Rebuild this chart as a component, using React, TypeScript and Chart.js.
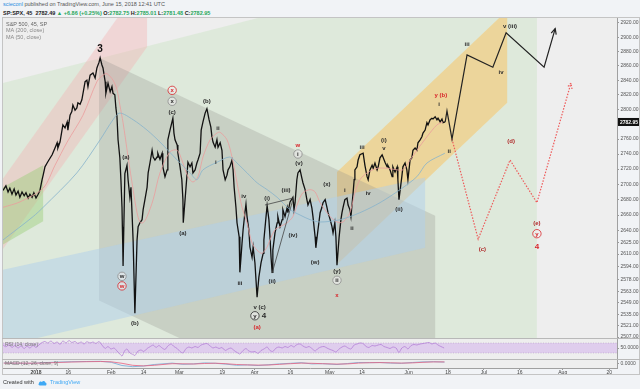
import React, { useEffect, useRef } from "react";
import { Chart, registerables } from "chart.js";
Chart.register(...registerables);

type P = [number, number];
const FONT = '"Liberation Sans", Arial, sans-serif';

// x = trading-day index (0 = Jan 2 2018), y = price (log scale)
const X_MIN = -9.21;
const X_MAX = 162.15;
const Y_MIN = 2505.8;
const Y_MAX = 2928.5;
const LAST_PRICE = 2782.95;

const PRICE_TICKS = [2920, 2900, 2880, 2860, 2840, 2820, 2800, 2780, 2760, 2740, 2720, 2700, 2680, 2660, 2640, 2625, 2610, 2594, 2578, 2563, 2549, 2535, 2521, 2507];
const TIME_TICKS = [0, 9, 21, 30, 40, 52, 61, 71, 82, 91, 104, 115, 125, 135, 147, 160];
const TIME_LABELS = ["2018", "16", "Feb", "14", "Mar", "19", "Apr", "16", "May", "14", "Jun", "18", "Jul", "16", "Aug", "20"];

const PRICE: P[] = [[-9.2,2692],[-8.4,2698],[-7.8,2690],[-7.3,2695],[-6.7,2687],[-6.1,2694],[-5.6,2686],[-5.0,2691],[-4.5,2683],[-3.9,2690],[-3.3,2685],[-2.8,2689],[-2.2,2682],[-1.7,2687],[-1.1,2683],[-0.6,2689],[0,2682],[0.6,2687],[1.1,2692],[1.7,2706],[2.0,2712],[2.5,2723],[3.1,2728],[3.6,2732],[4.5,2739],[5.3,2748],[5.9,2755],[6.1,2748],[6.7,2756],[7.5,2779],[8.1,2775],[8.7,2783],[8.9,2772],[9.5,2792],[10.0,2797],[10.3,2806],[10.9,2799],[11.4,2802],[11.7,2809],[12.3,2807],[12.8,2813],[13.7,2838],[14.2,2840],[14.5,2831],[15.1,2847],[15.9,2850],[16.5,2843],[17.0,2857],[17.6,2865],[17.9,2871],[18.4,2861],[18.7,2857],[19.3,2838],[19.5,2822],[20.1,2836],[20.7,2824],[21.2,2831],[21.5,2822],[22.0,2820],[22.3,2802],[22.6,2790],[22.9,2759],[23.4,2735],[23.7,2706],[24.0,2670],[24.1,2645],[24.2,2624],[24.3,2595],[24.8,2714],[25.4,2725],[25.7,2706],[26.2,2683],[26.5,2696],[26.8,2663],[27.1,2628],[27.6,2536],[28.2,2628],[28.5,2645],[29.0,2650],[29.6,2654],[29.9,2667],[30.4,2680],[31.0,2696],[31.3,2715],[31.8,2728],[32.4,2745],[32.7,2736],[33.2,2732],[33.8,2736],[34.0,2741],[34.6,2733],[35.2,2741],[35.4,2723],[36.0,2710],[36.6,2719],[36.8,2759],[37.4,2772],[38.2,2788],[38.5,2768],[38.8,2759],[39.4,2752],[39.6,2741],[40.2,2723],[40.7,2706],[41.0,2680],[41.1,2650],[41.6,2680],[42.1,2710],[42.4,2729],[43.0,2723],[43.5,2728],[43.8,2715],[44.4,2719],[44.9,2728],[45.2,2732],[45.8,2741],[46.1,2772],[46.6,2783],[47.2,2795],[47.7,2801],[48.3,2786],[48.8,2776],[49.1,2763],[49.4,2756],[50.0,2749],[50.5,2759],[50.8,2749],[51.4,2755],[51.9,2745],[52.2,2719],[52.8,2706],[53.3,2712],[53.6,2719],[54.1,2723],[54.7,2732],[55.0,2719],[55.3,2696],[55.8,2670],[56.1,2650],[56.7,2632],[56.9,2587],[57.5,2624],[57.8,2641],[58.3,2663],[58.6,2674],[58.9,2658],[59.4,2641],[59.7,2619],[60.3,2606],[60.6,2619],[61.1,2599],[61.7,2556],[62.2,2581],[62.8,2599],[63.4,2611],[63.6,2628],[64.2,2658],[64.5,2672],[65.0,2654],[65.3,2632],[65.6,2606],[65.9,2587],[66.1,2615],[66.7,2637],[67.3,2650],[67.5,2658],[68.1,2645],[68.7,2654],[68.9,2667],[69.5,2658],[70.1,2670],[70.3,2663],[70.9,2677],[71.7,2683],[72.0,2667],[72.3,2676],[72.8,2706],[73.1,2715],[73.7,2719],[74.2,2708],[74.5,2702],[75.1,2693],[75.6,2680],[75.9,2673],[76.5,2680],[77.0,2669],[77.3,2658],[77.9,2632],[78.1,2618],[78.7,2641],[79.3,2663],[79.8,2670],[80.1,2676],[80.7,2680],[81.2,2670],[81.5,2663],[82.1,2654],[82.6,2645],[82.9,2637],[83.4,2650],[83.7,2632],[84.0,2596],[84.6,2632],[85.1,2654],[85.4,2663],[85.7,2670],[86.2,2680],[86.8,2682],[87.1,2673],[87.6,2667],[87.9,2658],[88.5,2689],[88.8,2706],[89.0,2719],[89.6,2723],[89.9,2732],[90.4,2739],[91.3,2741],[91.8,2725],[92.4,2710],[92.7,2706],[93.2,2719],[93.8,2725],[94.1,2721],[94.6,2728],[95.2,2719],[95.5,2723],[96.0,2735],[96.6,2739],[97.4,2729],[98.0,2723],[98.2,2725],[98.8,2719],[99.4,2710],[99.6,2723],[100.2,2716],[100.8,2723],[101.0,2706],[101.3,2680],[102.1,2710],[102.4,2723],[103.0,2728],[103.5,2719],[103.8,2706],[104.4,2732],[104.9,2735],[105.2,2745],[105.8,2748],[106.3,2745],[106.6,2755],[107.2,2759],[107.7,2763],[108.0,2768],[108.6,2772],[109.1,2782],[109.4,2779],[110.0,2786],[110.5,2788],[110.8,2787],[111.4,2790],[111.9,2786],[112.2,2788],[112.8,2783],[113.3,2787],[113.6,2782],[114.2,2783]];

const MA50: P[] = [[-9.2,2670],[-4.5,2677],[2.0,2695],[5.3,2725],[8.7,2756],[13.1,2792],[17.0,2838],[18.7,2847],[19.8,2849],[21.5,2840],[22.6,2827],[23.4,2806],[24.3,2782],[25.7,2736],[27.1,2693],[28.2,2663],[29.0,2651],[29.9,2650],[31.0,2658],[32.7,2680],[34.6,2715],[37.4,2743],[39.4,2745],[40.7,2732],[42.4,2710],[43.8,2703],[45.2,2710],[46.6,2736],[48.6,2759],[50.5,2768],[51.4,2769],[53.3,2759],[54.7,2736],[56.1,2702],[57.5,2670],[58.9,2650],[60.3,2624],[61.7,2615],[63.1,2611],[64.5,2619],[65.3,2628],[66.7,2641],[68.1,2645],[70.1,2650],[71.7,2658],[73.1,2676],[74.5,2689],[76.5,2693],[77.9,2690],[79.3,2676],[82.1,2658],[84.0,2651],[85.7,2651],[87.6,2663],[89.0,2689],[90.4,2706],[92.4,2715],[95.2,2721],[98.0,2721],[100.8,2719],[102.4,2719],[104.4,2732],[106.3,2745],[109.1,2763],[111.9,2779],[113.6,2783]];

const MA200: P[] = [[-9.2,2628],[-0.8,2658],[2.0,2670],[11.4,2715],[17.9,2759],[21.5,2786],[23.4,2795],[27.1,2786],[31.0,2772],[34.6,2756],[39.4,2732],[43.0,2715],[44.9,2706],[46.6,2719],[50.5,2729],[54.1,2736],[56.1,2728],[58.9,2715],[61.7,2702],[64.5,2693],[67.3,2683],[70.9,2667],[73.7,2660],[76.5,2654],[79.3,2651],[84.9,2654],[90.4,2663],[96.0,2676],[101.6,2693],[106.3,2710],[109.1,2728],[114.1,2741]];

const PROJ_BLACK: P[] = [[114.2,2783],[114.7,2798],[116.1,2760],[120.3,2875],[127.5,2858],[131.2,2906],[141.8,2858],[144.9,2912]];
const PROJ_RED: P[] = [[116.1,2760],[123.4,2629],[132.3,2732],[139.8,2676],[149.3,2836]];
const WEDGE_UPPER: P[] = [[63.9,2673],[71.7,2682]];
const WEDGE_LOWER: P[] = [[65.9,2586],[71.7,2680]];

const ZONE_GREEN: P[] = [[-9.3,2836],[139.8,3030],[139.8,2316],[-9.3,2316]];
const ZONE_PINK: P[] = [[-9.3,2707],[31.0,2987],[31.0,2886],[-9.3,2616]];
const ZONE_GREEN_BOX: P[] = [[-9.3,2696],[2.0,2725],[2.0,2652],[-9.3,2622]];
const ZONE_ORANGE: P[] = [[84.0,2716],[131.5,2938],[131.5,2809],[84.0,2597]];
const ZONE_GRAY: P[] = [[17.6,2871],[111.4,2659],[111.4,2364],[17.6,2552]];
const ZONE_BLUE: P[] = [[-9.3,2590],[108.6,2709],[108.6,2618],[-9.3,2496]];

const RSI: P[] = [[-9.2,62],[-8.4,55],[-7.5,63],[-6.7,52],[-5.9,60],[-5.0,50],[-4.2,58],[-3.3,48],[-2.5,57],[-1.7,50],[-0.8,60],[0,52],[0.8,62],[1.7,72],[2.5,76],[3.3,70],[4.2,78],[5.0,68],[5.9,74],[6.7,64],[7.5,78],[8.4,70],[9.2,80],[10.0,72],[10.9,76],[11.7,68],[12.6,74],[13.4,66],[14.2,75],[15.1,70],[15.9,74],[16.7,68],[17.6,76],[18.4,62],[19.3,48],[20.1,56],[20.9,46],[21.8,50],[22.6,38],[23.4,26],[24.0,18],[24.8,40],[25.4,46],[26.2,30],[27.1,24],[27.6,20],[28.5,38],[29.3,42],[30.1,36],[31.0,48],[31.8,55],[32.7,62],[33.5,52],[34.3,60],[35.2,50],[36.0,44],[36.8,58],[37.7,66],[38.5,56],[39.4,48],[40.2,36],[41.0,30],[41.9,48],[42.7,54],[43.5,50],[44.4,56],[45.2,52],[46.1,62],[46.9,66],[47.7,68],[48.6,58],[49.4,50],[50.2,54],[51.1,48],[51.9,52],[52.8,40],[53.6,46],[54.4,50],[55.3,40],[56.1,32],[56.9,26],[57.8,40],[58.6,48],[59.4,38],[60.3,34],[61.1,36],[62.0,28],[62.8,40],[63.6,46],[64.5,54],[65.3,40],[66.1,36],[67.0,50],[67.8,54],[68.7,50],[69.5,56],[70.3,52],[71.2,60],[72.0,54],[72.8,64],[73.7,66],[74.5,58],[75.4,52],[76.2,56],[77.0,48],[77.9,38],[78.7,48],[79.5,54],[80.4,56],[81.2,50],[82.1,44],[82.9,40],[83.7,34],[84.6,46],[85.4,54],[86.2,58],[87.1,50],[87.9,46],[88.8,62],[89.6,66],[90.4,70],[91.3,68],[92.1,56],[92.9,52],[93.8,60],[94.6,58],[95.5,62],[96.3,64],[97.1,56],[98.0,52],[98.8,48],[99.6,54],[100.5,50],[101.3,32],[102.1,50],[103.0,56],[103.8,46],[104.7,60],[105.5,64],[106.3,62],[107.2,66],[108.0,68],[108.8,70],[109.7,72],[110.5,66],[111.4,70],[112.2,62],[113.0,56],[113.9,50]];

const MACD_LINE: P[] = [[-9,5],[-5,3],[-1,2],[2,8],[6,14],[10,18],[14,20],[18,22],[21,12],[24,-20],[27,-32],[30,-25],[33,-10],[36,-2],[38,4],[41,-8],[44,-4],[47,6],[50,2],[53,-6],[56,-18],[59,-14],[62,-20],[65,-12],[68,-4],[71,2],[74,8],[77,-4],[80,-2],[84,-10],[87,0],[90,10],[93,8],[96,10],[99,4],[102,2],[105,10],[108,16],[111,18],[114,14]];
const MACD_SIGNAL: P[] = [[-9,4],[-5,4],[-1,3],[2,5],[6,10],[10,15],[14,18],[18,20],[21,17],[24,2],[27,-18],[30,-24],[33,-18],[36,-8],[38,-2],[41,-3],[44,-5],[47,0],[50,3],[53,-2],[56,-10],[59,-14],[62,-16],[65,-15],[68,-8],[71,-2],[74,4],[77,2],[80,-2],[84,-6],[87,-4],[90,4],[93,8],[96,9],[99,7],[102,4],[105,6],[108,12],[111,16],[114,16]];

const BLACK = "#111111";
const DARK = "#2b2b2b";
const RED = "#d8262b";
const DRED = "#b02a2a";
const RING = "#8c8c8c";

type Lbl = { t: string; x: number; y: number; c: string; ring?: string; s?: number };
const WAVE_LABELS: Lbl[] = [
  { t: "3", x: 17.9, y: 2883, c: BLACK, s: 10 },
  { t: "(a)", x: 25.1, y: 2736, c: DARK },
  { t: "w", x: 24.0, y: 2582, c: DARK, ring: RING },
  { t: "w", x: 24.0, y: 2570, c: RED, ring: RED },
  { t: "(b)", x: 27.6, y: 2524, c: DARK },
  { t: "x", x: 38.0, y: 2826, c: RED, ring: RED },
  { t: "x", x: 38.0, y: 2811, c: DARK, ring: RING },
  { t: "(c)", x: 38.0, y: 2796, c: DARK },
  { t: "(a)", x: 41.0, y: 2637, c: DARK },
  { t: "(b)", x: 47.7, y: 2811, c: DARK },
  { t: "ii", x: 50.8, y: 2775, c: DARK },
  { t: "i", x: 50.2, y: 2729, c: DARK },
  { t: "iii", x: 56.9, y: 2574, c: DARK },
  { t: "iv", x: 58.0, y: 2685, c: DARK },
  { t: "v (c)", x: 62.4, y: 2544, c: DARK },
  { t: "y", x: 61.1, y: 2533, c: DARK, ring: DARK },
  { t: "4", x: 63.6, y: 2533, c: DARK, s: 8 },
  { t: "(a)", x: 61.7, y: 2519, c: RED },
  { t: "(i)", x: 64.5, y: 2682, c: DARK },
  { t: "(ii)", x: 65.9, y: 2576, c: DARK },
  { t: "(iii)", x: 69.8, y: 2692, c: DARK },
  { t: "(iv)", x: 71.7, y: 2634, c: DARK },
  { t: "w", x: 73.1, y: 2752, c: RED },
  { t: "i", x: 73.1, y: 2740, c: DARK, ring: RING },
  { t: "(v)", x: 73.4, y: 2728, c: DARK },
  { t: "(w)", x: 77.9, y: 2600, c: DARK },
  { t: "(x)", x: 81.2, y: 2700, c: DARK },
  { t: "i", x: 86.2, y: 2692, c: DARK },
  { t: "ii", x: 88.2, y: 2643, c: DARK },
  { t: "(y)", x: 84.0, y: 2589, c: DARK },
  { t: "ii", x: 84.0, y: 2577, c: DARK, ring: RING },
  { t: "x", x: 84.0, y: 2559, c: RED },
  { t: "iii", x: 91.0, y: 2749, c: DARK },
  { t: "iv", x: 92.7, y: 2689, c: DARK },
  { t: "(i)", x: 97.1, y: 2759, c: DARK },
  { t: "v", x: 97.1, y: 2748, c: DARK },
  { t: "(ii)", x: 101.3, y: 2668, c: DARK },
  { t: "y (b)", x: 113.0, y: 2820, c: RED },
  { t: "i", x: 112.5, y: 2807, c: DARK },
  { t: "ii", x: 115.3, y: 2744, c: DARK },
  { t: "iii", x: 120.3, y: 2890, c: DARK },
  { t: "iv", x: 129.8, y: 2851, c: DARK },
  { t: "v (iii)", x: 132.3, y: 2916, c: DARK },
  { t: "(d)", x: 132.6, y: 2757, c: DRED },
  { t: "(c)", x: 124.6, y: 2617, c: DRED },
  { t: "(e)", x: 139.8, y: 2650, c: DRED },
  { t: "y", x: 139.8, y: 2636, c: RED, ring: RED },
  { t: "4", x: 139.8, y: 2620, c: RED, s: 8 },
];

const PLOT_BG = "#eeeeee";

const pts = (a: P[]) => a.map(([x, y]) => ({ x, y }));

function fixedY(width: number) {
  return (s: any) => {
    s.width = width;
    s.paddingTop = 0;
    s.paddingBottom = 0;
  };
}

function arrowHead(ctx: CanvasRenderingContext2D, x0: number, y0: number, x1: number, y1: number, color: string, dash: number[]) {
  const ang = Math.atan2(y1 - y0, x1 - x0);
  const L = 6;
  ctx.save();
  ctx.strokeStyle = color;
  ctx.lineWidth = 1.2;
  ctx.setLineDash(dash);
  ctx.beginPath();
  ctx.moveTo(x1 - L * Math.cos(ang - 0.45), y1 - L * Math.sin(ang - 0.45));
  ctx.lineTo(x1, y1);
  ctx.lineTo(x1 - L * Math.cos(ang + 0.45), y1 - L * Math.sin(ang + 0.45));
  ctx.stroke();
  ctx.restore();
}

const zonesPlugin = {
  id: "zones",
  beforeDatasetsDraw(chart: any) {
    const { ctx, chartArea: a, scales } = chart;
    const xs = scales.x, ys = scales.y;
    ctx.save();
    ctx.beginPath();
    ctx.rect(a.left, a.top, a.right - a.left, a.bottom - a.top);
    ctx.clip();
    ctx.fillStyle = PLOT_BG;
    ctx.fillRect(a.left, a.top, a.right - a.left, a.bottom - a.top);
    const zones: [P[], string][] = [
      [ZONE_GREEN, "rgba(190,225,180,0.32)"],
      [ZONE_PINK, "rgba(245,175,175,0.38)"],
      [ZONE_GREEN_BOX, "rgba(150,205,115,0.42)"],
      [ZONE_ORANGE, "rgba(250,195,95,0.52)"],
      [ZONE_GRAY, "rgba(140,142,138,0.27)"],
      [ZONE_BLUE, "rgba(175,208,235,0.5)"],
    ];
    for (const [poly, col] of zones) {
      ctx.fillStyle = col;
      ctx.beginPath();
      poly.forEach(([px, py], i) => {
        const X = xs.getPixelForValue(px), Y = ys.getPixelForValue(py);
        if (i) ctx.lineTo(X, Y); else ctx.moveTo(X, Y);
      });
      ctx.closePath();
      ctx.fill();
    }
    ctx.restore();
  },
};

const labelsPlugin = {
  id: "waveLabels",
  afterDatasetsDraw(chart: any) {
    const { ctx, chartArea: a, scales } = chart;
    const xs = scales.x, ys = scales.y;
    ctx.save();
    // arrows
    const bn = PROJ_BLACK.length;
    arrowHead(ctx, xs.getPixelForValue(PROJ_BLACK[bn - 2][0]), ys.getPixelForValue(PROJ_BLACK[bn - 2][1]), xs.getPixelForValue(PROJ_BLACK[bn - 1][0]), ys.getPixelForValue(PROJ_BLACK[bn - 1][1]), "#222", []);
    const rn = PROJ_RED.length;
    arrowHead(ctx, xs.getPixelForValue(PROJ_RED[rn - 2][0]), ys.getPixelForValue(PROJ_RED[rn - 2][1]), xs.getPixelForValue(PROJ_RED[rn - 1][0]), ys.getPixelForValue(PROJ_RED[rn - 1][1]), "#ee5a5a", [1.5, 1.5]);
    ctx.textAlign = "center";
    ctx.textBaseline = "middle";
    for (const l of WAVE_LABELS) {
      const X = xs.getPixelForValue(l.x), Y = ys.getPixelForValue(l.y);
      if (l.ring) {
        ctx.beginPath();
        ctx.arc(X, Y, 4.2, 0, Math.PI * 2);
        ctx.fillStyle = "rgba(240,240,240,0.6)";
        ctx.fill();
        ctx.strokeStyle = l.ring;
        ctx.lineWidth = 0.8;
        ctx.stroke();
      }
      ctx.fillStyle = l.c;
      ctx.font = `bold ${l.s || 6}px ${FONT}`;
      ctx.fillText(l.t, X, Y + 0.3);
    }
    // last price badge
    const py = ys.getPixelForValue(LAST_PRICE);
    ctx.fillStyle = "#111";
    ctx.fillRect(a.right + 1, py - 4, chart.width - a.right - 1, 8);
    ctx.fillStyle = "#fff";
    ctx.font = `bold 5px ${FONT}`;
    ctx.textAlign = "left";
    ctx.fillText(LAST_PRICE.toFixed(2), a.right + 3, py + 0.5);
    ctx.restore();
  },
};

function mainConfig(): any {
  return {
    type: "line",
    data: {
      datasets: [
        { data: pts(WEDGE_UPPER), borderColor: "#444", borderWidth: 0.8, pointRadius: 0 },
        { data: pts(WEDGE_LOWER), borderColor: "#444", borderWidth: 0.8, pointRadius: 0 },
        { data: pts(MA200), borderColor: "#86b3cc", borderWidth: 0.8, pointRadius: 0, tension: 0.3 },
        { data: pts(MA50), borderColor: "#eb9d9d", borderWidth: 0.8, pointRadius: 0, tension: 0.3 },
        { data: pts(PRICE), borderColor: BLACK, borderWidth: 1.3, pointRadius: 0 },
        { data: pts(PROJ_BLACK), borderColor: "#222", borderWidth: 1.2, pointRadius: 0 },
        { data: pts(PROJ_RED), borderColor: "#ee5a5a", borderWidth: 1.2, borderDash: [1.5, 1.5], pointRadius: 0 },
      ],
    },
    options: {
      responsive: false,
      animation: false,
      devicePixelRatio: 1,
      events: [],
      layout: { padding: { left: 3, right: 0, top: 0, bottom: 0 } },
      plugins: { legend: { display: false }, tooltip: { enabled: false } },
      scales: {
        x: { type: "linear", min: X_MIN, max: X_MAX, display: false },
        y: {
          type: "logarithmic",
          position: "right",
          min: Y_MIN,
          max: Y_MAX,
          afterFit: fixedY(23),
          afterBuildTicks: (s: any) => { s.ticks = PRICE_TICKS.map((v) => ({ value: v })); },
          ticks: { autoSkip: false, maxRotation: 0, padding: 1.5, color: "#555", font: { size: 5, family: FONT }, callback: (v: any) => Number(v).toFixed(2) },
          grid: { drawOnChartArea: false, drawTicks: true, tickLength: 2, color: "#999" },
          border: { display: true, color: "#a0a0a0" },
        },
      },
    },
    plugins: [zonesPlugin, labelsPlugin],
  };
}

const rsiPlugin = {
  id: "rsiBand",
  beforeDatasetsDraw(chart: any) {
    const { ctx, chartArea: a, scales } = chart;
    ctx.save();
    ctx.fillStyle = PLOT_BG;
    ctx.fillRect(a.left, a.top, a.right - a.left, a.bottom - a.top);
    const y70 = scales.y.getPixelForValue(70), y30 = scales.y.getPixelForValue(30);
    ctx.fillStyle = "rgba(205,165,235,0.45)";
    ctx.fillRect(a.left, y70, a.right - a.left, y30 - y70);
    ctx.strokeStyle = "rgba(150,120,170,0.6)";
    ctx.lineWidth = 0.6;
    ctx.setLineDash([1, 1.5]);
    for (const yy of [y70, y30]) {
      ctx.beginPath();
      ctx.moveTo(a.left, yy);
      ctx.lineTo(a.right, yy);
      ctx.stroke();
    }
    ctx.restore();
  },
};

function rsiConfig(): any {
  return {
    type: "line",
    data: { datasets: [{ data: pts(RSI), borderColor: "#b27fd6", borderWidth: 0.8, pointRadius: 0, tension: 0.2 }] },
    options: {
      responsive: false,
      animation: false,
      devicePixelRatio: 1,
      events: [],
      layout: { padding: { left: 3, right: 0, top: 0, bottom: 0 } },
      plugins: { legend: { display: false }, tooltip: { enabled: false } },
      scales: {
        x: { type: "linear", min: X_MIN, max: X_MAX, display: false },
        y: {
          type: "linear",
          position: "right",
          min: 6,
          max: 90,
          afterFit: fixedY(23),
          afterBuildTicks: (s: any) => { s.ticks = [{ value: 50 }]; },
          ticks: { color: "#555", padding: 1.5, font: { size: 5, family: FONT }, callback: () => "50.0000" },
          grid: { drawOnChartArea: false, drawTicks: true, tickLength: 2, color: "#999" },
          border: { display: true, color: "#a0a0a0" },
        },
      },
    },
    plugins: [rsiPlugin],
  };
}

const macdBg = {
  id: "macdBg",
  beforeDatasetsDraw(chart: any) {
    const { ctx, chartArea: a } = chart;
    ctx.save();
    ctx.fillStyle = PLOT_BG;
    ctx.fillRect(a.left, a.top, a.right - a.left, a.bottom - a.top);
    ctx.restore();
  },
};

function macdConfig(): any {
  return {
    type: "line",
    data: {
      datasets: [
        { data: pts(MACD_SIGNAL), borderColor: "#e8607f", borderWidth: 0.8, pointRadius: 0 },
        { data: pts(MACD_LINE), borderColor: "#6fa8d6", borderWidth: 0.8, pointRadius: 0 },
      ],
    },
    options: {
      responsive: false,
      animation: false,
      devicePixelRatio: 1,
      events: [],
      layout: { padding: { left: 3, right: 0, top: 0, bottom: 0 } },
      plugins: { legend: { display: false }, tooltip: { enabled: false } },
      scales: {
        x: {
          type: "linear",
          min: X_MIN,
          max: X_MAX,
          position: "bottom",
          afterFit: (s: any) => { s.height = 7; s.paddingLeft = 0; s.paddingRight = 0; },
          afterBuildTicks: (s: any) => { s.ticks = TIME_TICKS.map((v) => ({ value: v })); },
          ticks: {
            autoSkip: false,
            maxRotation: 0,
            padding: 0,
            color: "#444",
            font: (c: any) => ({ size: 5, family: FONT, weight: c.index === 0 ? "bold" : "normal" }),
            callback: (_v: any, i: number) => TIME_LABELS[i],
          },
          grid: { drawOnChartArea: false, drawTicks: true, tickLength: 2, color: "#999" },
          border: { display: true, color: "#a0a0a0" },
        },
        y: {
          type: "linear",
          position: "right",
          min: -45,
          max: 45,
          afterFit: fixedY(23),
          afterBuildTicks: (s: any) => { s.ticks = [{ value: 0 }]; },
          ticks: { color: "#555", padding: 1.5, font: { size: 5, family: FONT }, callback: () => "0.0000" },
          grid: { drawOnChartArea: false, drawTicks: true, tickLength: 2, color: "#999" },
          border: { display: true, color: "#a0a0a0" },
        },
      },
    },
    plugins: [macdBg],
  };
}

const txt = (style: React.CSSProperties): React.CSSProperties => ({
  position: "absolute",
  whiteSpace: "nowrap",
  fontFamily: FONT,
  lineHeight: 1,
  ...style,
});

export default function App() {
  const mainRef = useRef<HTMLCanvasElement>(null);
  const rsiRef = useRef<HTMLCanvasElement>(null);
  const macdRef = useRef<HTMLCanvasElement>(null);

  useEffect(() => {
    const charts = [
      new Chart(mainRef.current!, mainConfig()),
      new Chart(rsiRef.current!, rsiConfig()),
      new Chart(macdRef.current!, macdConfig()),
    ];
    return () => charts.forEach((c) => c.destroy());
  }, []);

  const G = "#26a65b";
  return (
    <div style={{ position: "fixed", left: 0, top: 0, width: 640, height: 389, background: "#f1f3f6", overflow: "hidden" }}>
      <div style={txt({ left: 3, top: 1.5, fontSize: 5.5, color: "#555" })}>
        <span style={{ color: "#2a8ce0" }}>scieconl</span> published on TradingView.com, June 15, 2018 12:41 UTC
      </div>
      <div style={txt({ left: 3, top: 10.5, fontSize: 5.5, color: "#222", fontWeight: "bold" })}>
        SP:SPX, 45 &nbsp;2782.49 <span style={{ color: G }}>▲ +6.86 (+0.25%)</span> O:<span style={{ color: G }}>2782.75</span> H:<span style={{ color: G }}>2785.01</span> L:<span style={{ color: G }}>2781.48</span> C:<span style={{ color: G }}>2782.95</span>
      </div>

      <canvas ref={mainRef} width={640} height={321} style={{ position: "absolute", left: 0, top: 17, display: "block" }} />
      <canvas ref={rsiRef} width={640} height={21} style={{ position: "absolute", left: 0, top: 338, display: "block" }} />
      <canvas ref={macdRef} width={640} height={16} style={{ position: "absolute", left: 0, top: 359, display: "block" }} />

      <div style={{ position: "absolute", left: 2, top: 17, width: 638, height: 358, border: "1px solid #c4c4c4", boxSizing: "border-box", pointerEvents: "none" }} />
      <div style={{ position: "absolute", left: 2, top: 338, width: 638, height: 1, background: "#b8b8b8" }} />
      <div style={{ position: "absolute", left: 2, top: 359, width: 638, height: 1, background: "#b8b8b8" }} />

      <div style={txt({ left: 6, top: 21.5, fontSize: 5.5, color: "#666" })}>S&amp;P 500, 45, SP</div>
      <div style={txt({ left: 6, top: 28, fontSize: 5.5, color: "#888" })}>MA (200, close)</div>
      <div style={txt({ left: 6, top: 34.5, fontSize: 5.5, color: "#888" })}>MA (50, close)</div>
      <div style={txt({ left: 5, top: 341.5, fontSize: 5, color: "#777" })}>RSI (14, close)</div>
      <div style={txt({ left: 5, top: 361, fontSize: 5, color: "#777", height: 5, overflow: "hidden" })}>MACD (12, 26, close, 9)</div>

      <div style={txt({ left: 3, top: 379.5, fontSize: 5.5, color: "#333", display: "flex", alignItems: "center" })}>
        <span>Created with</span>
        <svg width="9" height="6" viewBox="0 0 18 12" style={{ margin: "0 3px 0 4px" }}>
          <path d="M4 11 C1 11 0 8 2 6.5 C2 3 6 2 8 4 C9 1 14 1 14.5 5 C17 5 18 8 16 11 Z" fill="#3fa9f5" />
        </svg>
        <span style={{ color: "#3fa9f5" }}>TradingView</span>
      </div>
    </div>
  );
}
